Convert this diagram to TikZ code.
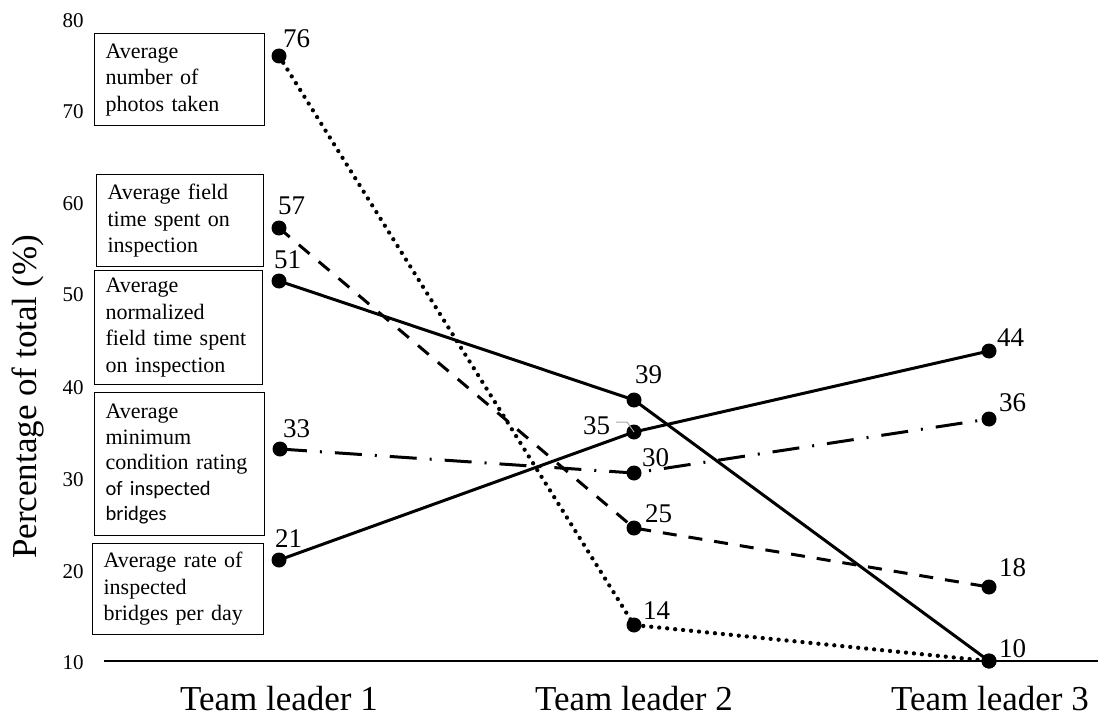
\documentclass[tikz,border=0pt]{standalone}
\usepackage{fontspec}
\setmainfont{Liberation Serif}
\newfontfamily\calfont{Carlito}
\begin{document}
\begin{tikzpicture}[x=1pt,y=-1pt,
  pt/.style={circle,fill=black,inner sep=0pt,minimum size=15pt},
  val/.style={anchor=base west,inner sep=0pt,font=\fontsize{27}{30}\selectfont},
  tick/.style={inner sep=0pt,font=\fontsize{21}{24}\selectfont},
  team/.style={anchor=base,inner sep=0pt,font=\fontsize{35}{40}\selectfont},
  legbox/.style={draw,line width=1.2pt,anchor=north west,inner xsep=11pt,inner ysep=0pt,
    align=left,font=\fontsize{22}{26.5}\selectfont},
  linesolid/.style={line width=3pt},
  linedash/.style={line width=3pt,dash pattern=on 14pt off 12pt},
  linedot/.style={line width=4.3pt,line cap=round,dash pattern=on 0pt off 8pt},
  linedashdot/.style={line width=3pt,dash pattern=on 27pt off 13pt on 2pt off 13pt}]
\useasboundingbox (0,0) rectangle (1098,717);

% axis
\coordinate (axl) at (104,661);
\coordinate (axr) at (1098,661);
\draw[line width=1.8pt] (axl) -- (axr);

% tick labels
\node[tick] (t80) at (73,21) {80};
\node[tick] (t70) at (73,112) {70};
\node[tick] (t60) at (73,204) {60};
\node[tick] (t50) at (73,295) {50};
\node[tick] (t40) at (73,388) {40};
\node[tick] (t30) at (73,480) {30};
\node[tick] (t20) at (73,572) {20};
\node[tick] (t10) at (73,663) {10};

% axis titles
\node[rotate=90,inner sep=0pt,font=\fontsize{35}{40}\selectfont] (ytitle) at (28,397) {Percentage of total (\%)};
\node[team] (tl1) at (279,710) {Team leader 1};
\node[team] (tl2) at (634,710) {Team leader 2};
\node[team] (tl3) at (990,710) {Team leader 3};

% legend boxes
\node[legbox,minimum width=170pt,text width=148pt,minimum height=92pt] (b1) at (94,33)
  {Average\\number of\\photos taken};
\node[legbox,minimum width=167pt,text width=145pt,minimum height=92pt] (b2) at (96,174)
  {Average field\\time spent on\\inspection};
\node[legbox,minimum width=168pt,text width=146pt,minimum height=114pt] (b3) at (94,270)
  {Average\\normalized\\field time spent\\on inspection};
\node[legbox,minimum width=170pt,text width=148pt,minimum height=143pt,font=\fontsize{22}{25.5}\selectfont] (b4) at (94,392)
  {Average\\minimum\\condition rating\\{\calfont\fontsize{20.5}{25.5}\selectfont of inspected}\\{\calfont\fontsize{20.5}{25.5}\selectfont bridges}};
\node[legbox,minimum width=171pt,text width=149pt,minimum height=91pt] (b5) at (92,543)
  {Average rate of\\inspected\\bridges per day};

% data points
\node[pt] (a1) at (279,56) {};
\node[pt] (a2) at (634,625) {};
\node[pt] (a3) at (989,661) {};

\node[pt] (b1p) at (279,228) {};
\node[pt] (b2p) at (634,528) {};
\node[pt] (b3p) at (989,587) {};

\node[pt] (c1) at (279,281) {};
\node[pt] (c2) at (634,400) {};
\node[pt] (c3) at (989,661) {};

\node[pt] (d1) at (280,449) {};
\node[pt] (d2) at (634,473) {};
\node[pt] (d3) at (989,419) {};

\node[pt] (e1) at (279,560) {};
\node[pt] (e2) at (634,432) {};
\node[pt] (e3) at (989,351) {};

% series
\draw[linedot] (a1.center) -- (a2.center) -- (a3.center);
\draw[linedash] (b1p.center) -- (b2p.center) -- (b3p.center);
\draw[linesolid] (c1.center) -- (c2.center) -- (c3.center);
\draw[linedashdot] (d1.center) -- (d2.center) -- (d3.center);
\draw[linesolid] (e1.center) -- (e2.center) -- (e3.center);

% value labels
\node[val] (l76) at (283,48) {76};
\node[val] (l57) at (278,214) {57};
\node[val] (l51) at (274,268) {51};
\node[val] (l33) at (283,437) {33};
\node[val] (l21) at (275,547) {21};

\node[val] (l39) at (635,383) {39};
\node[val] (l35) at (583,434) {35};
\node[val] (l30) at (642,466) {30};
\node[val] (l25) at (645,522) {25};
\node[val] (l14) at (643,619) {14};

\node[val] (l44) at (997,346) {44};
\node[val] (l36) at (999,411) {36};
\node[val] (l18) at (999,576) {18};
\node[val] (l10) at (999,657) {10};

% leader line of label 35
\coordinate (h1) at (616,422);
\coordinate (h2) at (627,422);
\draw[gray!70,line width=1pt] (h1) -- (h2) -- (e2.center);
\end{tikzpicture}
\end{document}
